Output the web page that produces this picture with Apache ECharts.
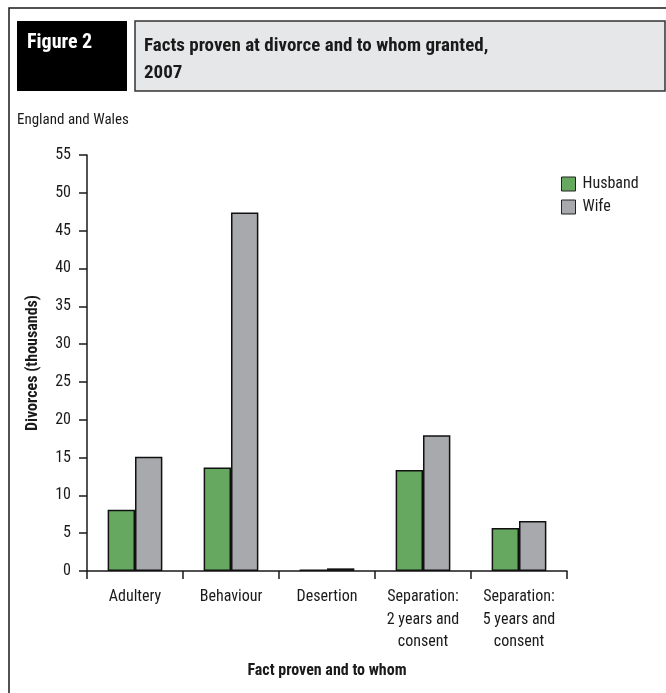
<!DOCTYPE html>
<html>
<head>
<meta charset="utf-8">
<script src="https://cdn.jsdelivr.net/npm/echarts@6/dist/echarts.min.js"></script>
<style>
  html, body { margin: 0; padding: 0; background: #fff; }
  #chart { width: 666px; height: 693px; }
</style>
</head>
<body>
<div id="chart"></div>
<script>
// Divorces in England and Wales, 2007, by fact proven (thousands)
const categories = ['Adultery', 'Behaviour', 'Desertion', 'Separation:\n2 years and\nconsent', 'Separation:\n5 years and\nconsent'];
const husband = [8.1, 13.7, 0.2, 13.35, 5.7];
const wife = [15.1, 47.4, 0.35, 17.95, 6.6];
const yTicks = { min: 0, max: 55, interval: 5 };

const FONT = '"Liberation Sans Narrow", "Roboto Condensed", "Open Sans", sans-serif';
const INK = '#1a1a1a';

const chart = echarts.init(document.getElementById('chart'), null, { renderer: 'canvas' });

chart.setOption({
  backgroundColor: '#ffffff',
  animation: false,
  textStyle: { fontFamily: FONT, color: INK },
  graphic: [
    // page frame
    { type: 'rect', shape: { x: 9, y: 8, width: 720, height: 720 },
      style: { fill: 'none', stroke: INK, lineWidth: 1.5 }, silent: true },
    // figure number block
    { type: 'rect', shape: { x: 17, y: 21, width: 110, height: 70 },
      style: { fill: '#000000' } },
    { type: 'text', left: 27, top: 33,
      style: { text: 'Figure 2', fill: '#ffffff', font: 'bold 20px ' + FONT } },
    // title block
    { type: 'rect', shape: { x: 135, y: 21, width: 530, height: 70 },
      style: { fill: '#e6e7e8', stroke: '#333333', lineWidth: 1.5 } },
    { type: 'text', left: 144, top: 33,
      style: { text: 'Facts proven at divorce and to whom granted,\n2007', fill: INK,
               font: 'bold 19px ' + FONT, lineHeight: 27 } },
    // geography note
    { type: 'text', left: 17, top: 113,
      style: { text: 'England and Wales', fill: INK, font: '15px ' + FONT } }
  ],
  legend: {
    orient: 'vertical',
    left: 561,
    top: 176,
    padding: 0,
    itemWidth: 14,
    itemHeight: 14,
    itemGap: 7,
    icon: 'rect',
    itemStyle: { borderColor: '#222', borderWidth: 1 },
    textStyle: { fontFamily: FONT, fontSize: 16, color: INK, padding: [0, 0, 0, 2] },
    data: ['Husband', 'Wife']
  },
  grid: { left: 87, right: 99, top: 155, bottom: 122, containLabel: false },
  xAxis: {
    type: 'category',
    data: categories,
    name: 'Fact proven and to whom',
    nameLocation: 'middle',
    nameGap: 92,
    nameTextStyle: { fontFamily: FONT, fontSize: 16, fontWeight: 'bold', color: INK },
    axisLine: { lineStyle: { color: INK, width: 1.5 } },
    axisTick: { show: true, length: 8, lineStyle: { color: INK, width: 1.5 } },
    axisLabel: { fontFamily: FONT, fontSize: 16, color: INK, margin: 15, lineHeight: 22.5, interval: 0 }
  },
  yAxis: {
    type: 'value',
    min: yTicks.min,
    max: yTicks.max,
    interval: yTicks.interval,
    name: 'Divorces (thousands)',
    nameLocation: 'middle',
    nameGap: 46,
    nameTextStyle: { fontFamily: FONT, fontSize: 16, fontWeight: 'bold', color: INK },
    splitLine: { show: false },
    axisLine: { show: true, lineStyle: { color: INK, width: 1.5 } },
    axisTick: { show: true, length: 8, lineStyle: { color: INK, width: 1.5 } },
    axisLabel: { fontFamily: FONT, fontSize: 16, color: INK, margin: 16 }
  },
  series: [
    {
      name: 'Husband',
      type: 'bar',
      data: husband,
      barGap: '0%',
      barCategoryGap: '43%',
      itemStyle: { color: '#66a85f', borderColor: '#111', borderWidth: 1.5 }
    },
    {
      name: 'Wife',
      type: 'bar',
      data: wife,
      barGap: '0%',
      barCategoryGap: '43%',
      itemStyle: { color: '#a7a9ac', borderColor: '#111', borderWidth: 1.5 }
    }
  ]
});
</script>
</body>
</html>
